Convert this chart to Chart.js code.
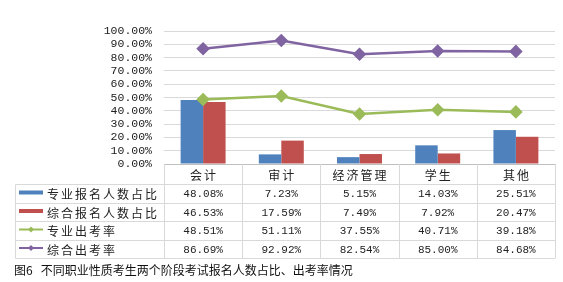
<!DOCTYPE html>
<html>
<head>
<meta charset="utf-8">
<script src="https://cdn.jsdelivr.net/npm/chart.js@4"></script>
<style>
  body { margin: 0; background: #fff; }
  #wrap { position: relative; width: 563px; height: 282px; }
  #caption {
    position: absolute; left: 14px; top: 262px;
    font: 12px "Noto Sans CJK SC", sans-serif; line-height: 16px; color: #111;
    white-space: pre;
  }
</style>
</head>
<body>
<div id="wrap">
  <canvas id="chart" width="563" height="262"></canvas>
  <div id="caption">图6&nbsp;&nbsp;&nbsp;不同职业性质考生两个阶段考试报名人数占比、出考率情况</div>
</div>
<script>
// 类别与数据 (%)
const categories = ['会计', '审计', '经济管理', '学生', '其他'];
const seriesNames = ['专业报名人数占比', '综合报名人数占比', '专业出考率', '综合出考率'];
const majorSignup = [48.08, 7.23, 5.15, 14.03, 25.51];
const compSignup = [46.53, 17.59, 7.49, 7.92, 20.47];
const majorRate = [48.51, 51.11, 37.55, 40.71, 39.18];
const compRate = [86.69, 92.92, 82.54, 85.00, 84.68];
const yTicks = [0, 10, 20, 30, 40, 50, 60, 70, 80, 90, 100];

const colors = ['#4f81bd', '#c0504d', '#9bbb59', '#8064a2'];
const monoFont = '11px "Liberation Mono", monospace';
const cjkFont = '12px "Noto Sans CJK SC", sans-serif';

// 底部数据表
const tablePlugin = {
  id: 'dataTable',
  afterDraw(chart) {
    const ctx = chart.ctx;
    const x = chart.scales.x;
    const top = chart.chartArea.bottom;
    const rowLines = [184.5, 203.5, 221.5, 240.5, 258.5];
    const left = 15.5;
    const right = chart.chartArea.right;
    const half = (x.getPixelForValue(1) - x.getPixelForValue(0)) / 2;
    const allSeries = [majorSignup, compSignup, majorRate, compRate];

    ctx.save();
    ctx.strokeStyle = '#d9d9d9';
    ctx.lineWidth = 1;
    ctx.beginPath();
    rowLines.forEach(y => { ctx.moveTo(left, y); ctx.lineTo(right, y); });
    ctx.moveTo(left, rowLines[0]); ctx.lineTo(left, rowLines[4]);
    for (let i = 0; i <= categories.length; i++) {
      const px = Math.round(x.getPixelForValue(i) - half) + 0.5;
      ctx.moveTo(px, top); ctx.lineTo(px, rowLines[4]);
    }
    ctx.stroke();

    ctx.fillStyle = '#222';
    ctx.textAlign = 'center';
    ctx.textBaseline = 'middle';
    ctx.font = cjkFont;
    ctx.letterSpacing = '2px';
    categories.forEach((c, i) => ctx.fillText(c, x.getPixelForValue(i) + 1, 175));

    ctx.letterSpacing = '0px';
    ctx.font = monoFont;
    allSeries.forEach((arr, r) => {
      const cy = (rowLines[r] + rowLines[r + 1]) / 2 + 0.5;
      arr.forEach((v, i) => ctx.fillText(v.toFixed(2) + '%', x.getPixelForValue(i), cy));

      // 图例
      ctx.fillStyle = colors[r];
      if (r < 2) {
        ctx.fillRect(19, cy - 4, 24, 4);
      } else {
        ctx.strokeStyle = colors[r];
        ctx.lineWidth = 2;
        ctx.beginPath(); ctx.moveTo(19, cy - 2); ctx.lineTo(43, cy - 2); ctx.stroke();
        ctx.beginPath();
        ctx.moveTo(31, cy - 5); ctx.lineTo(34, cy - 2); ctx.lineTo(31, cy + 1); ctx.lineTo(28, cy - 2);
        ctx.closePath(); ctx.fill();
      }
      ctx.fillStyle = '#222';
      ctx.textAlign = 'left';
      ctx.font = cjkFont;
      ctx.letterSpacing = '2px';
      ctx.fillText(seriesNames[r], 47, cy);
      ctx.letterSpacing = '0px';
      ctx.textAlign = 'center';
      ctx.font = monoFont;
    });
    ctx.restore();
  }
};

new Chart(document.getElementById('chart'), {
  type: 'bar',
  data: {
    labels: categories,
    datasets: [
      { label: seriesNames[0], data: majorSignup, backgroundColor: colors[0], order: 2,
        categoryPercentage: 0.575, barPercentage: 1 },
      { label: seriesNames[1], data: compSignup, backgroundColor: colors[1], order: 2,
        categoryPercentage: 0.575, barPercentage: 1 },
      { type: 'line', label: seriesNames[2], data: majorRate, borderColor: colors[2],
        backgroundColor: colors[2], borderWidth: 2.5, pointStyle: 'rectRot', pointRadius: 5, order: 1 },
      { type: 'line', label: seriesNames[3], data: compRate, borderColor: colors[3],
        backgroundColor: colors[3], borderWidth: 2.5, pointStyle: 'rectRot', pointRadius: 5, order: 1 }
    ]
  },
  options: {
    responsive: false,
    animation: false,
    layout: { padding: { top: 31, right: 8, bottom: 98, left: 0 } },
    plugins: { legend: { display: false }, tooltip: { enabled: false } },
    scales: {
      x: {
        ticks: { display: false },
        grid: { display: false },
        border: { color: '#bfbfbf' },
        afterFit: s => { s.height = 0; }
      },
      y: {
        min: 0, max: 100,
        afterBuildTicks: s => { s.ticks = yTicks.map(v => ({ value: v })); },
        ticks: {
          autoSkip: false,
          padding: 12,
          color: '#222',
          font: { family: '"Liberation Mono", monospace', size: 11.5 },
          callback: v => v.toFixed(2) + '%'
        },
        grid: { color: '#d9d9d9', drawTicks: false },
        border: { display: false },
        afterFit: s => { s.width = 164; }
      }
    }
  },
  plugins: [tablePlugin]
});
</script>
</body>
</html>
